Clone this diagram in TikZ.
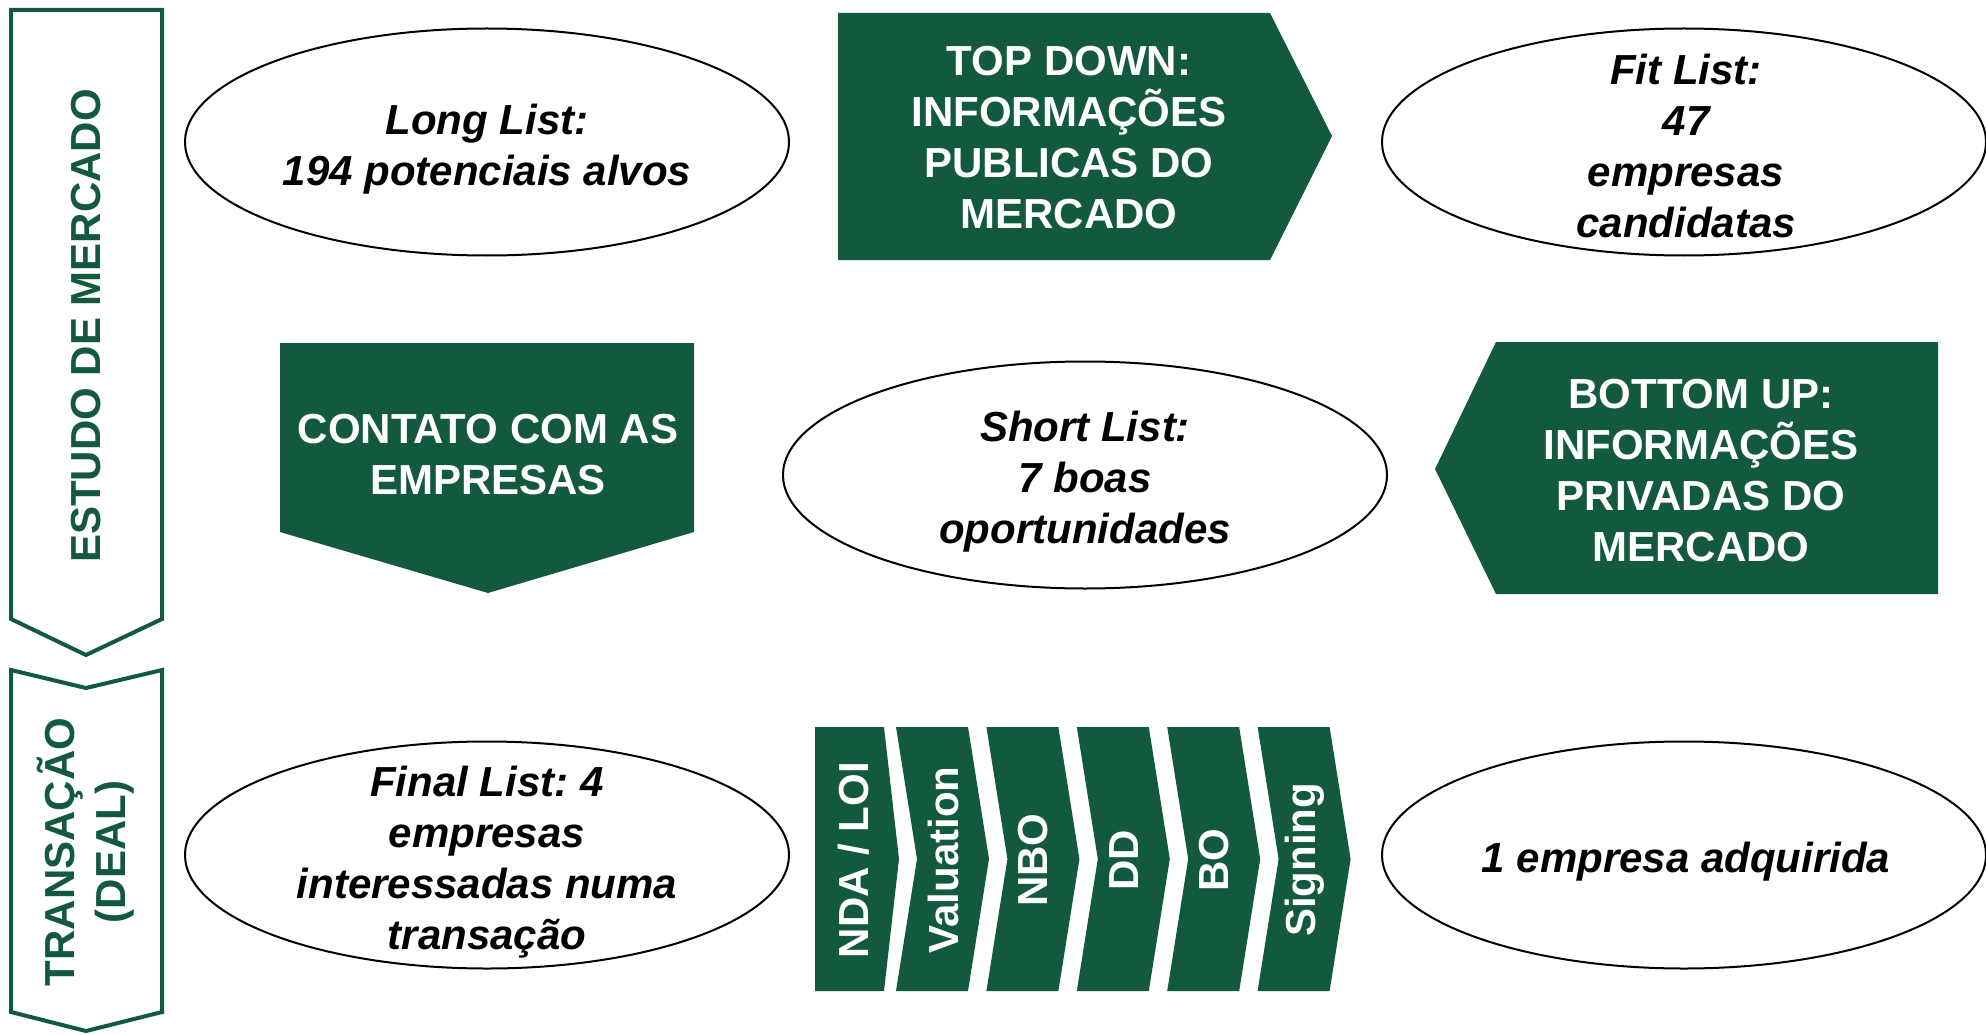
\documentclass[tikz,border=0pt]{standalone}
\usepackage{fontspec}
\setmainfont{Liberation Sans}
\usetikzlibrary{shapes.geometric}
\definecolor{dkgreen}{RGB}{19,89,61}
\frenchspacing
\begin{document}
\begin{tikzpicture}[x=1pt,y=-1pt,
  gfill/.style={fill=dkgreen},
  gout/.style={draw=dkgreen,line width=4pt,line join=miter,fill=white},
  bigfont/.style={font=\bfseries\fontsize{42}{51}\selectfont},
  wtxt/.style={bigfont,text=white,align=center,inner sep=0pt},
  gtxt/.style={bigfont,text=dkgreen,align=center,inner sep=0pt,rotate=90},
  vtxt/.style={wtxt,rotate=90},
  ellshape/.style={draw=black,line width=2pt,ellipse,minimum width=604pt,minimum height=227pt,inner sep=0pt},
  elltxt/.style={inner sep=0pt,align=center,text=black,font=\bfseries\itshape\fontsize{42}{51}\selectfont}]
\useasboundingbox (0,0) rectangle (1986,1035);

% left phase chevrons
\draw[gout] (11,10) -- (162,10) -- (162,619) -- (86,655) -- (11,619) -- cycle;
\draw[gout] (11,670) -- (86,688) -- (162,670) -- (162,1012) -- (86,1031) -- (11,1012) -- cycle;
\node[gtxt] (estudo) at (86,326) {ESTUDO DE MERCADO};
\node[gtxt] (transacao) at (86,852) {TRANSAÇÃO\\(DEAL)};

% top down
\fill[gfill] (838,13) -- (1270,13) -- (1332,136) -- (1270,260) -- (838,260) -- cycle;
\node[wtxt] (topdown) at (1069,138) {TOP DOWN:\\INFORMAÇÕES\\PUBLICAS DO\\MERCADO};

% contato
\fill[gfill] (280,343) -- (694,343) -- (694,532) -- (488,593) -- (280,532) -- cycle;
\node[wtxt] (contato) at (488,455) {CONTATO COM AS\\EMPRESAS};

% bottom up
\fill[gfill] (1496,342) -- (1938,342) -- (1938,594) -- (1496,594) -- (1435,469) -- cycle;
\node[wtxt] (bottomup) at (1701,471) {BOTTOM UP:\\INFORMAÇÕES\\PRIVADAS DO\\MERCADO};

% ellipses
\node[ellshape] (longlist) at (487,142) {};
\node[elltxt] (longlisttxt) at (487,149) {Long List:\\194 potenciais alvos};
\node[ellshape] (fitlist) at (1684,142) {};
\node[elltxt] (fitlisttxt) at (1686,146) {Fit List:\\47\\empresas\\candidatas};
\node[ellshape] (shortlist) at (1085,475) {};
\node[elltxt] (shortlisttxt) at (1085,482) {Short List:\\7 boas\\oportunidades};
\node[ellshape] (finallist) at (487,855) {};
\node[elltxt] (finallisttxt) at (487,862) {Final List: 4\\empresas\\interessadas numa\\transação};
\node[ellshape] (adquirida) at (1684,855) {};
\node[elltxt] (adquiridatxt) at (1686,862) {1 empresa adquirida};

% deal steps
\fill[gfill] (815,727) -- (884,727) -- (899,859) -- (884,991) -- (815,991) -- cycle;
\foreach \L in {896,986.4,1076.8,1167.2,1257.6}{
  \fill[gfill] (\L,727) -- (\L+72,727) -- (\L+93,859) -- (\L+72,991) -- (\L,991) -- (\L+21,859) -- cycle;
}
\node[vtxt] (nda) at (854,860) {NDA / LOI};
\node[vtxt] (valuation) at (943,860) {Valuation};
\node[vtxt] (nbo) at (1033,860) {NBO};
\node[vtxt] (dd) at (1124,860) {DD};
\node[vtxt] (bo) at (1214,860) {BO};
\node[vtxt] (signing) at (1305,860) {Signing};
\end{tikzpicture}
\end{document}
